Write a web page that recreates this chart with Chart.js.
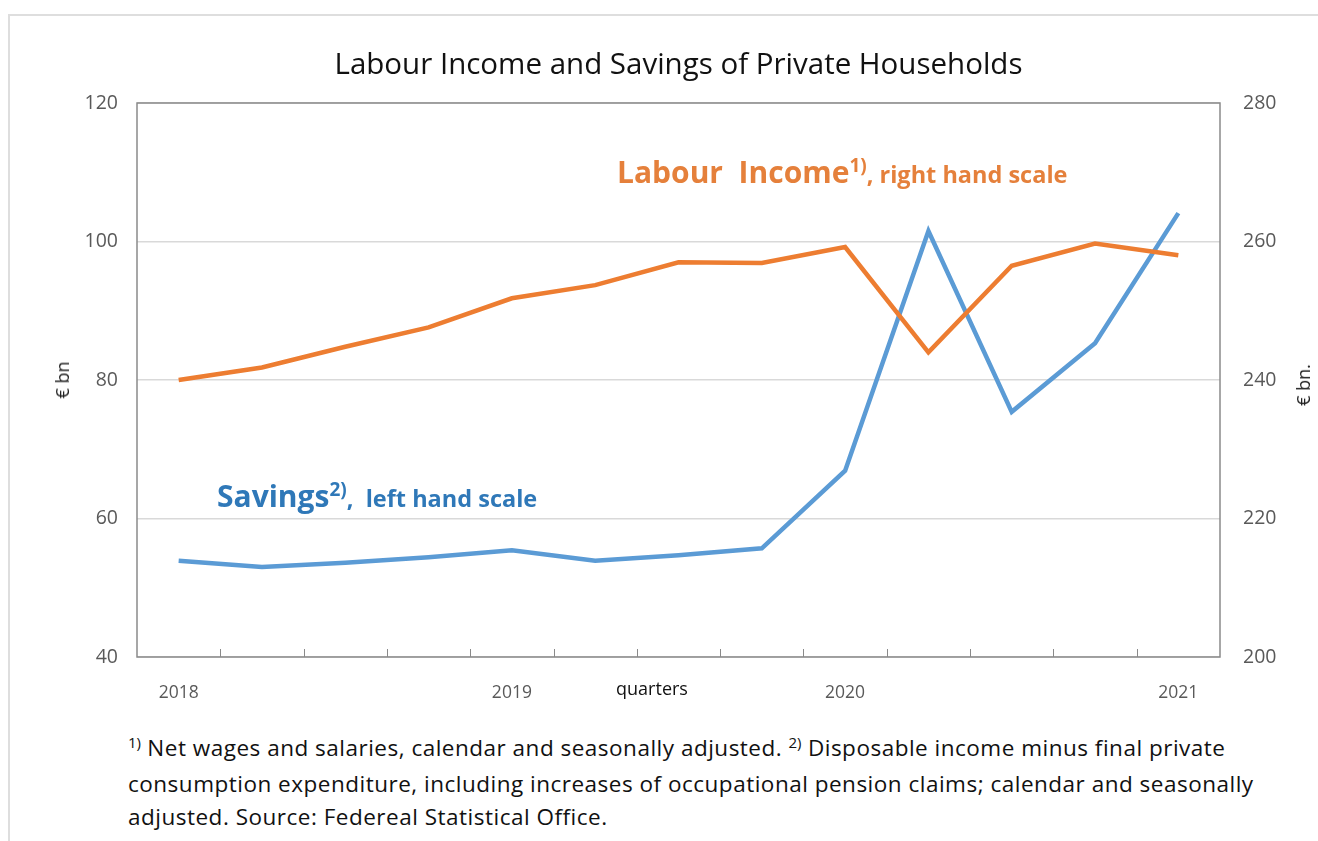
<!DOCTYPE html>
<html>
<head>
<meta charset="utf-8">
<script src="https://cdn.jsdelivr.net/npm/chart.js@4.4.1/dist/chart.umd.min.js"></script>
<style>
  body { margin: 0; background: #fff; overflow: hidden; font-family: 'Open Sans', sans-serif; }
  #wrap { position: relative; width: 1318px; height: 841px; overflow: hidden; }
  #frame { position: absolute; left: 8px; top: 14px; width: 1400px; height: 900px;
           border-left: 2px solid #dedede; border-top: 2px solid #dedede; }
  canvas { position: absolute; left: 0; top: 0; }
  .t { position: absolute; white-space: nowrap; }
  .rot { transform: translate(-50%, -50%) rotate(-90deg); font-size: 18px; color: #222; }
  #title { left: 0; width: 1357px; text-align: center; top: 45px; font-size: 29.5px; line-height: 36px; color: #111; }
  .note { font-weight: bold; line-height: 36px; }
  .big { font-size: 30px; }
  .small { font-size: 23.5px; }
  .sup { font-size: 19px; position: relative; top: -11px; }
  #labour { left: 617px; top: 154px; color: #e5803b; }
  #sav { left: 217px; top: 478px; color: #2f78b8; }
  #foot { left: 128px; top: 731px; font-size: 22.5px; letter-spacing: 0.5px; line-height: 33px; color: #111; }
  #foot sup { font-size: 15px; vertical-align: 0; position: relative; top: -8px; letter-spacing: 0; }
</style>
</head>
<body>
<div id="wrap">
  <div id="frame"></div>
  <canvas id="chart" width="1318" height="720"></canvas>
  <div class="t" id="title">Labour Income and Savings of Private Households</div>
  <div class="t rot" style="left:62px; top:380px;">€ bn</div>
  <div class="t rot" style="left:1303px; top:385px;">€ bn.</div>
  <div class="t" style="left:652px; top:688px; transform: translate(-50%, -50%); font-size:18px; color:#111;">quarters</div>
  <div class="t note" id="labour"><span class="big">Labour&nbsp; Income</span><span class="sup">1)</span><span class="small">, right hand scale</span></div>
  <div class="t note" id="sav"><span class="big">Savings</span><span class="sup">2)</span><span class="small">,&nbsp; left hand scale</span></div>
  <div class="t" id="foot"><sup>1)</sup> Net wages and salaries, calendar and seasonally adjusted. <sup>2)</sup> Disposable income minus final private<br>consumption expenditure, including increases of occupational pension claims; calendar and seasonally<br>adjusted. Source: Federeal Statistical Office.</div>
</div>
<script>
// quarterly data, 2018 Q1 - 2021 Q1
var quarters = ['2018 Q1', '2018 Q2', '2018 Q3', '2018 Q4',
                '2019 Q1', '2019 Q2', '2019 Q3', '2019 Q4',
                '2020 Q1', '2020 Q2', '2020 Q3', '2020 Q4',
                '2021 Q1'];
var yearLabels = ['2018', '', '', '', '2019', '', '', '', '2020', '', '', '', '2021'];
var savings = [53.9, 53.0, 53.6, 54.4, 55.4, 53.9, 54.7, 55.7, 66.9, 101.5, 75.4, 85.3, 104.1];
var labourIncome = [240.0, 241.8, 244.8, 247.6, 251.8, 253.7, 257.0, 256.9, 259.2, 244.0, 256.5, 259.7, 258.0];
var leftRange = [40, 120];
var rightRange = [200, 280];

// plot box and small inward tick marks between the quarters
var plotFrame = {
  id: 'plotFrame',
  beforeDatasetsDraw: function(chart) {
    var a = chart.chartArea, c = chart.ctx, xs = chart.scales.x;
    c.save();
    c.strokeStyle = '#8a8a8a';
    c.lineWidth = 1.5;
    c.strokeRect(a.left, a.top, a.right - a.left, a.bottom - a.top);
    c.lineWidth = 1;
    c.beginPath();
    for (var i = 1; i < quarters.length; i++) {
      var x = Math.round((xs.getPixelForValue(i - 1) + xs.getPixelForValue(i)) / 2) + 0.5;
      c.moveTo(x, a.bottom);
      c.lineTo(x, a.bottom - 8);
    }
    c.stroke();
    c.restore();
  }
};

var ctx = document.getElementById('chart').getContext('2d');
var myChart = new Chart(ctx, {
  type: 'line',
  data: {
    labels: quarters,
    datasets: [{
        label: 'Labour Income',
        data: labourIncome,
        yAxisID: 'y2',
        borderColor: '#ed7d31',
        borderWidth: 4.5,
        pointRadius: 0,
        tension: 0
    }, {
        label: 'Savings',
        data: savings,
        yAxisID: 'y',
        borderColor: '#5b9bd5',
        borderWidth: 4.5,
        pointRadius: 0,
        tension: 0
    }]
  },
  options: {
    responsive: false,
    animation: false,
    layout: { padding: { top: 103, left: 0, right: 0, bottom: 0 } },
    plugins: { legend: { display: false }, tooltip: { enabled: false } },
    scales: {
      x: {
        offset: true,
        grid: { display: false, offset: true },
        border: { display: false },
        ticks: {
          autoSkip: false, maxRotation: 0, padding: 18,
          color: '#595959', font: { family: 'Open Sans', size: 17.5 },
          callback: function(v, i) { return yearLabels[i]; }
        },
        afterFit: function(s) { s.height = 63; }
      },
      y: {
        position: 'left',
        min: leftRange[0], max: leftRange[1],
        ticks: { stepSize: 20, padding: 19, color: '#595959', font: { family: 'Open Sans', size: 19.5 } },
        grid: { color: '#d9d9d9', lineWidth: 1.5, drawTicks: false },
        border: { display: false },
        afterFit: function(s) { s.width = 137; }
      },
      y2: {
        position: 'right',
        min: rightRange[0], max: rightRange[1],
        ticks: { stepSize: 20, padding: 23, color: '#595959', font: { family: 'Open Sans', size: 19.5 } },
        grid: { drawOnChartArea: false, drawTicks: false },
        border: { display: false },
        afterFit: function(s) { s.width = 98; }
      }
    }
  },
  plugins: [plotFrame]
});
</script>
</body>
</html>
